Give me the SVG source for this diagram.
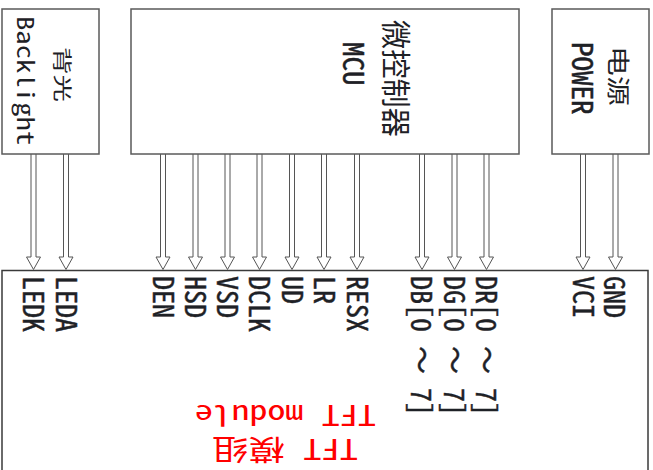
<svg xmlns="http://www.w3.org/2000/svg" xmlns:xlink="http://www.w3.org/1999/xlink" width="653" height="470" viewBox="0 0 653 470">
<style>
.box{fill:#fff;stroke:#5a5a5a;stroke-width:1.5}
.t{font-family:"Noto Sans Mono CJK SC","Noto Sans CJK SC","DejaVu Sans Mono",monospace;fill:#1e2126}
.h{stroke:#1e2126;stroke-width:0.45}
.lb{font-size:28px}
.red{font-family:"Noto Sans Mono CJK SC","Noto Sans CJK SC","DejaVu Sans Mono",monospace;fill:#ff0000;font-size:28px}
.arr{fill:#fff;stroke:#555;stroke-width:1}
</style>
<defs>
<path id="arr" class="arr" d="M-2.5,0 V103 H-7 L0,115.5 L7,103 H2.5 V0"/>
</defs>
<rect width="653" height="470" fill="#fff"/>
<g id="tft">
<rect class="box" x="2" y="270.5" width="646" height="220" style="stroke:#3a3a3a"/>
<text class="red" transform="translate(376,405) rotate(180)" textLength="181" lengthAdjust="spacingAndGlyphs">TFT module</text>
<text class="red" transform="translate(358,439) rotate(180)" textLength="146" lengthAdjust="spacingAndGlyphs">TFT 模组</text>
</g>
<g id="connectors">
<use xlink:href="#arr" x="33.5" y="154"/>
<use xlink:href="#arr" x="66" y="154"/>
<use xlink:href="#arr" x="163" y="154"/>
<use xlink:href="#arr" x="195.5" y="154"/>
<use xlink:href="#arr" x="227.5" y="154"/>
<use xlink:href="#arr" x="259.5" y="154"/>
<use xlink:href="#arr" x="292" y="154"/>
<use xlink:href="#arr" x="324" y="154"/>
<use xlink:href="#arr" x="357" y="154"/>
<use xlink:href="#arr" x="422" y="154"/>
<use xlink:href="#arr" x="454.5" y="154"/>
<use xlink:href="#arr" x="486.5" y="154"/>
<use xlink:href="#arr" x="583" y="154"/>
<use xlink:href="#arr" x="615.5" y="154"/>
</g>
<g id="backlight">
<rect class="box" x="2" y="9" width="97" height="145"/>
<text class="t" font-size="23" transform="translate(16.5,16) rotate(90) scale(1.25,1)">Backlight</text>
<text class="t" font-size="19" transform="translate(54.5,47) rotate(90) scale(1.45,1)">背光</text>
</g>
<g id="mcu">
<rect class="box" x="131" y="9" width="388" height="145"/>
<text class="t h" font-size="29" transform="translate(343,42) rotate(90)">MCU</text>
<text class="t" font-size="30" transform="translate(384.5,20) rotate(90) scale(0.975,1)">微控制器</text>
</g>
<g id="power">
<rect class="box" x="552" y="9" width="97" height="145"/>
<text class="t h" font-size="29" transform="translate(572,42) rotate(90)">POWER</text>
<text class="t" font-size="23" transform="translate(610,46) rotate(90) scale(1.3,1)">电源</text>
</g>
<g id="labels">
<text class="t lb h" transform="translate(23,276) rotate(90)">LEDK</text>
<text class="t lb h" transform="translate(55.5,276) rotate(90)">LEDA</text>
<text class="t lb h" transform="translate(152.5,276) rotate(90)">DEN</text>
<text class="t lb h" transform="translate(185,276) rotate(90)">HSD</text>
<text class="t lb h" transform="translate(217,276) rotate(90)">VSD</text>
<text class="t lb h" transform="translate(249,276) rotate(90)">DCLK</text>
<text class="t lb h" transform="translate(281.5,276) rotate(90)">UD</text>
<text class="t lb h" transform="translate(313.5,276) rotate(90)">LR</text>
<text class="t lb h" transform="translate(346.5,276) rotate(90)">RESX</text>
<text class="t lb h" transform="translate(411,276) rotate(90)">DB[0 ～ 7]</text>
<text class="t lb h" transform="translate(443.5,276) rotate(90)">DG[0 ～ 7]</text>
<text class="t lb h" transform="translate(476,276) rotate(90)">DR[0 ～ 7]</text>
<text class="t lb h" transform="translate(572.5,276) rotate(90)">VCI</text>
<text class="t lb h" transform="translate(604,276) rotate(90)">GND</text>
</g>
</svg>
